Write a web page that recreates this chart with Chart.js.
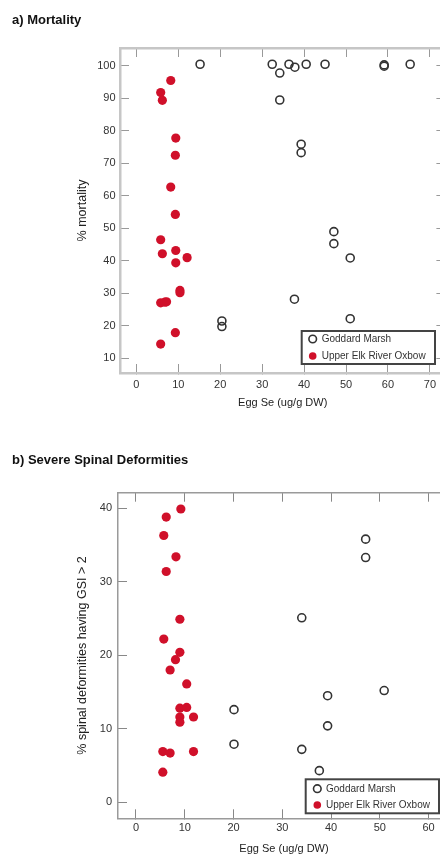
<!DOCTYPE html>
<html><head><meta charset="utf-8">
<script src="https://cdn.jsdelivr.net/npm/chart.js@4"></script>
<style>
html,body{margin:0;padding:0;background:#fff;overflow:hidden;}
#wrap{position:relative;width:440px;height:858px;overflow:hidden;background:#fff;}
canvas{position:absolute;left:0;}
#ca{top:0}
#cb{top:430px}
</style></head>
<body><div id="wrap"><canvas id="ca" width="470" height="430"></canvas><canvas id="cb" width="470" height="428"></canvas></div>
<script>
// ---- data ----
const seriesNames = ['Goddard Marsh', 'Upper Elk River Oxbow'];
const panelTitles = ['a) Mortality', 'b) Severe Spinal Deformities'];
const xAxisTitle = 'Egg Se (ug/g DW)';
const yAxisTitles = ['% mortality', '% spinal deformities having GSI > 2'];

const mortGoddardX = [15.2, 32.4, 34.2, 36.4, 37.8, 40.5, 45.0, 59.1, 59.1, 65.3, 34.2, 39.3, 39.3, 47.1, 47.1, 51.0, 37.7, 51.0, 20.4, 20.4];
const mortGoddardY = [100.5, 100.5, 97.8, 100.5, 99.6, 100.5, 100.5, 100.3, 99.9, 100.5, 89.5, 75.9, 73.3, 49.0, 45.3, 40.9, 28.2, 22.2, 21.5, 19.8];
const mortOxbowX = [8.2, 5.8, 6.2, 9.4, 9.3, 8.2, 9.3, 5.8, 6.2, 9.4, 9.4, 12.1, 10.4, 10.4, 5.8, 6.8, 7.2, 9.3, 5.8];
const mortOxbowY = [95.5, 91.8, 89.4, 77.8, 72.5, 62.7, 54.3, 46.5, 42.2, 43.2, 39.4, 41.0, 30.9, 30.2, 27.1, 27.3, 27.4, 17.9, 14.4];

const defGoddardX = [47.1, 47.1, 34.0, 50.9, 39.3, 39.3, 34.0, 37.6, 20.1, 20.1];
const defGoddardY = [35.8, 33.3, 25.1, 15.2, 14.5, 10.4, 7.2, 4.3, 12.6, 7.9];
const defOxbowX = [9.2, 6.2, 5.7, 8.2, 6.2, 9.0, 5.7, 9.0, 8.1, 7.0, 10.4, 9.0, 10.4, 9.0, 9.0, 11.8, 5.5, 7.0, 11.8, 5.5];
const defOxbowY = [39.9, 38.8, 36.3, 33.4, 31.4, 24.9, 22.2, 20.4, 19.4, 18.0, 16.1, 12.8, 12.9, 11.6, 10.9, 11.6, 6.9, 6.7, 6.9, 4.1];

const mortXTicks = [0, 10, 20, 30, 40, 50, 60, 70];
const mortYTicks = [10, 20, 30, 40, 50, 60, 70, 80, 90, 100];
const defXTicks = [0, 10, 20, 30, 40, 50, 60];
const defYTicks = [0, 10, 20, 30, 40];

// ---- helpers ----
Chart.defaults.font.family = '"Liberation Sans", Arial, Helvetica, sans-serif';
Chart.defaults.color = '#333';

const pts = (xs, ys) => xs.map((x, i) => ({x: x, y: ys[i]}));
const RED = '#d0102a';

const boxLegend = {
  id: 'boxLegend',
  afterDraw(chart, args, o) {
    const {ctx, chartArea} = chart;
    const left = chartArea.right - o.right - o.width;
    const top = chartArea.bottom - o.bottom - o.height;
    ctx.save();
    ctx.fillStyle = '#fff';
    ctx.fillRect(left, top, o.width, o.height);
    ctx.strokeStyle = o.borderColor;
    ctx.lineWidth = o.borderWidth;
    ctx.strokeRect(left, top, o.width, o.height);
    ctx.font = o.font;
    ctx.textBaseline = 'middle';
    ctx.textAlign = 'left';
    chart.data.datasets.forEach((ds, i) => {
      const cy = top + o.rows[i];
      const cx = left + o.symbolX;
      ctx.beginPath();
      ctx.arc(cx, cy, o.symbolR, 0, Math.PI * 2);
      ctx.fillStyle = ds.backgroundColor;
      ctx.fill();
      if (ds.borderWidth > 0) {
        ctx.lineWidth = ds.borderWidth;
        ctx.strokeStyle = ds.borderColor;
        ctx.stroke();
      }
      ctx.fillStyle = '#333';
      ctx.fillText(ds.label, left + o.textX, cy + 0.5);
    });
    ctx.restore();
  }
};

function makeScales(p) {
  const grid = {display: true, drawOnChartArea: false, drawTicks: true, tickLength: -9, tickColor: p.tickColor, tickWidth: 1};
  const border = {display: true, color: p.borderColor, width: p.borderWidth};
  const setX = s => { s.ticks = p.xTicks.map(v => ({value: v})); };
  const setY = s => { s.ticks = p.yTicks.map(v => ({value: v})); };
  return {
    x: {type: 'linear', position: 'bottom', min: p.xMin, max: p.xMax, afterBuildTicks: setX,
        ticks: {padding: p.xPad, color: '#333', font: {size: 11}},
        grid: grid, border: border,
        title: {display: true, text: xAxisTitle, color: '#222', font: {size: 11}, padding: {top: 0, bottom: p.xTitlePad}},
        afterFit: s => { s.height = p.xH; }},
    x2: {type: 'linear', position: 'top', min: p.xMin, max: p.xMax, afterBuildTicks: setX,
        ticks: {display: false}, grid: grid, border: border,
        afterFit: s => { s.height = p.topH; }},
    y: {type: 'linear', position: 'left', min: p.yMin, max: p.yMax, afterBuildTicks: setY,
        ticks: {padding: p.yPad, color: '#333', font: {size: 11}},
        grid: grid, border: border,
        title: {display: true, text: p.yTitle, color: '#222', font: {size: 12.5}, padding: {top: p.yTitlePad, bottom: 0}},
        afterFit: s => { s.width = p.yW; }},
    y2: {type: 'linear', position: 'right', min: p.yMin, max: p.yMax, afterBuildTicks: setY,
        ticks: {display: false}, grid: grid, border: border,
        afterFit: s => { s.width = p.rightW; }}
  };
}

function makeChart(id, p) {
  return new Chart(document.getElementById(id), {
    type: 'scatter',
    data: {
      datasets: [
        {label: seriesNames[0], data: pts(p.gx, p.gy), backgroundColor: 'rgba(0,0,0,0)', borderColor: '#333',
         borderWidth: 1.6, pointRadius: 4, pointHoverRadius: 4},
        {label: seriesNames[1], data: pts(p.ox, p.oy), backgroundColor: RED, borderColor: RED,
         borderWidth: 0, pointRadius: 4.6, pointHoverRadius: 4.6}
      ]
    },
    options: {
      responsive: false, animation: false, devicePixelRatio: 1,
      layout: {padding: {left: 12, top: 0, right: 0, bottom: 0}},
      plugins: {
        legend: {display: false},
        tooltip: {enabled: false},
        title: {display: true, text: p.title, align: 'start', color: '#111',
                font: {size: 13, weight: 'bold'}, padding: {top: p.tPadTop, bottom: 0}},
        boxLegend: p.legend
      },
      scales: makeScales(p)
    },
    plugins: [boxLegend]
  });
}

makeChart('ca', {
  title: panelTitles[0], yTitle: yAxisTitles[0],
  gx: mortGoddardX, gy: mortGoddardY, ox: mortOxbowX, oy: mortOxbowY,
  xTicks: mortXTicks, yTicks: mortYTicks,
  xMin: -3.9, xMax: 73.7, yMin: 5.5, yMax: 105.5,
  tPadTop: 12.2, topH: 20.2, xH: 57, xPad: 14.4, xTitlePad: 20.7,
  yW: 108, yPad: 13.5, yTitlePad: 63.5, rightW: 24.6,
  borderColor: '#c6c6c6', borderWidth: 2.5, tickColor: '#999',
  legend: {right: 10.4, bottom: 9, width: 133.3, height: 33, rows: [8, 25], symbolX: 11, textX: 20,
           symbolR: 3.8, font: '10px "Liberation Sans", Arial, sans-serif', borderColor: '#444', borderWidth: 2}
});

makeChart('cb', {
  title: panelTitles[1], yTitle: yAxisTitles[1],
  gx: defGoddardX, gy: defGoddardY, ox: defOxbowX, oy: defOxbowY,
  xTicks: defXTicks, yTicks: defYTicks,
  xMin: -3.69, xMax: 64.4, yMin: -2.18, yMax: 42.12,
  tPadTop: 22.2, topH: 24.9, xH: 39.7, xPad: 12.4, xTitlePad: 2.1,
  yW: 106, yPad: 15, yTitlePad: 63.5, rightW: 20,
  borderColor: '#9a9a9a', borderWidth: 1.5, tickColor: '#888',
  legend: {right: 11, bottom: 5, width: 133.3, height: 34, rows: [9.4, 25.7], symbolX: 11.6, textX: 20.3,
           symbolR: 3.8, font: '10px "Liberation Sans", Arial, sans-serif', borderColor: '#444', borderWidth: 2}
});
</script>
</body></html>
